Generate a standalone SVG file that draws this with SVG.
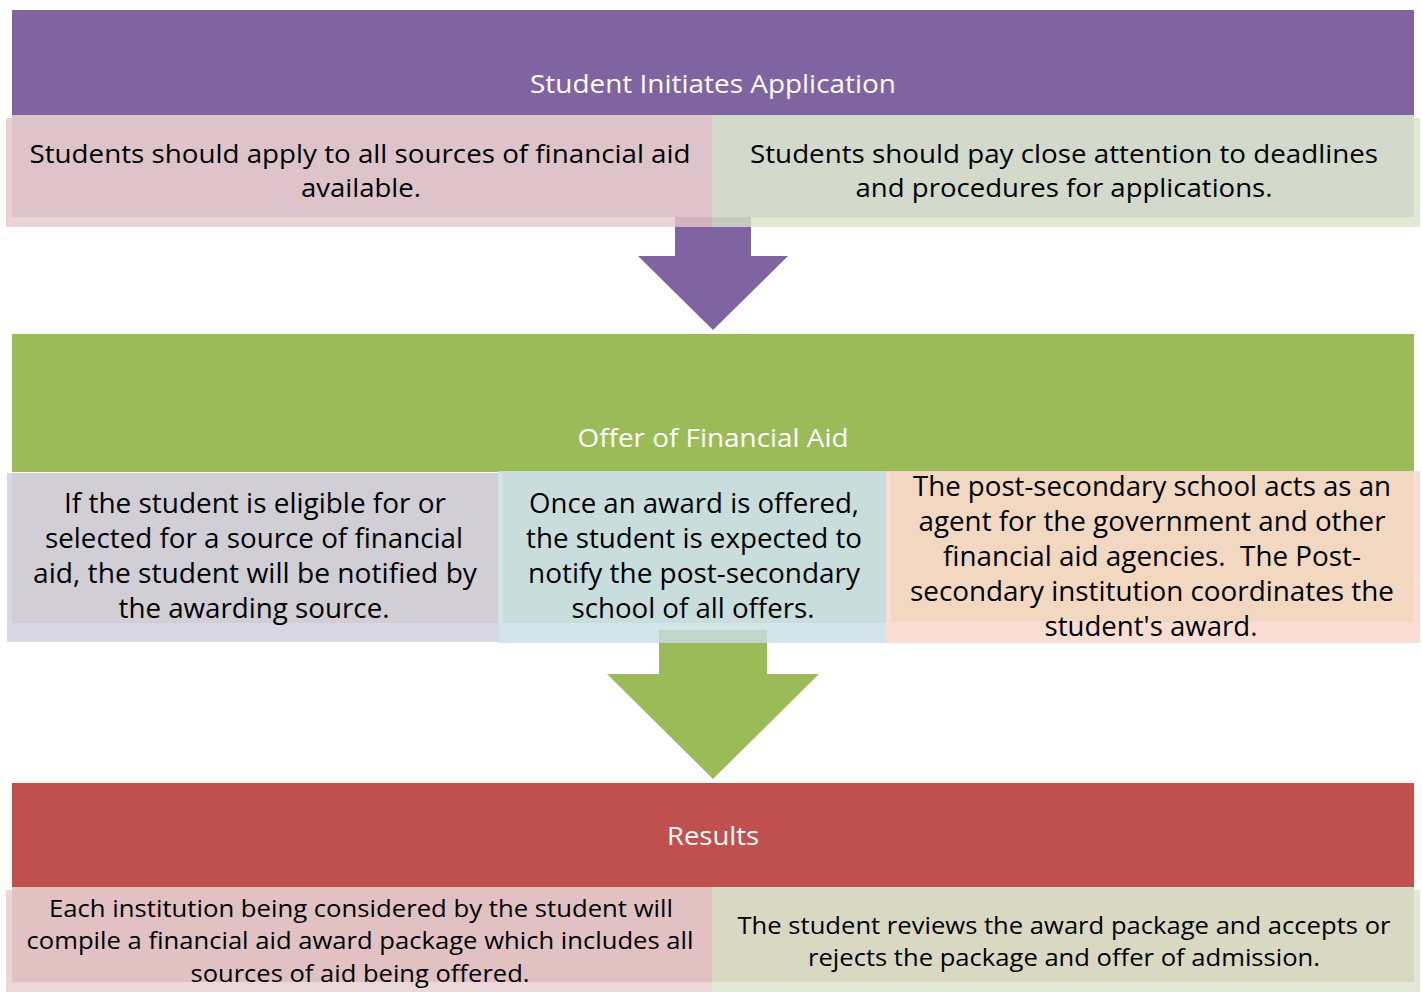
<svg xmlns="http://www.w3.org/2000/svg" width="1422" height="992" viewBox="0 0 1422 992">
<style>
.t{font-family:"Open Sans","Noto Sans",sans-serif;fill:#000;text-anchor:middle}
.s{font-size:26px}
.b{font-size:24px}
.m{font-size:27px}
.h{font-family:"Open Sans","Noto Sans",sans-serif;fill:#fff;text-anchor:middle;font-size:26px}
.lt{opacity:0.8}
</style>
<rect width="1422" height="992" fill="#fff"/>
<g id="connectors">
<path d="M675,217 L751,217 L751,256 L788,256 L713,330 L638,256 L675,256 Z" fill="#8064A2"/>
<path d="M659,630 L767,630 L767,674 L819,674 L713,779 L607,674 L659,674 Z" fill="#9BBB59"/>
</g>
<g id="stage1">
<rect x="12" y="10" width="1402" height="105" fill="#8064A2"/>
<text class="h" x="713" y="93" textLength="366" lengthAdjust="spacingAndGlyphs">Student Initiates Application</text>
</g>
<g id="box1a">
<rect class="lt" x="6" y="118" width="706" height="109" fill="#E6C8C8"/>
<rect x="12" y="115" width="700" height="102" fill="#DEC4CA"/>
<text class="t s" x="360" y="163" textLength="661" lengthAdjust="spacingAndGlyphs">Students should apply to all sources of financial aid</text>
<text class="t s" x="361" y="197" textLength="120" lengthAdjust="spacingAndGlyphs">available.</text>
</g>
<g id="box1b">
<rect class="lt" x="712" y="118" width="708" height="109" fill="#DAE3CA"/>
<rect x="712" y="115" width="702" height="102" fill="#D3DACB"/>
<text class="t s" x="1064" y="163" textLength="628" lengthAdjust="spacingAndGlyphs">Students should pay close attention to deadlines</text>
<text class="t s" x="1064" y="197" textLength="417" lengthAdjust="spacingAndGlyphs">and procedures for applications.</text>
</g>
<g id="stage2">
<rect x="12" y="334" width="1402" height="138" fill="#9BBB59"/>
<text class="h" x="713" y="447" textLength="271" lengthAdjust="spacingAndGlyphs">Offer of Financial Aid</text>
</g>
<g id="box2a">
<rect class="lt" x="7" y="473" width="491" height="169" fill="#D1CDDD"/>
<rect x="12" y="473" width="486" height="150" fill="#D2CED5"/>
<text class="t m" x="255" y="513" textLength="382" lengthAdjust="spacingAndGlyphs">If the student is eligible for or</text>
<text class="t m" x="254" y="548" textLength="418" lengthAdjust="spacingAndGlyphs">selected for a source of financial</text>
<text class="t m" x="255" y="583" textLength="444" lengthAdjust="spacingAndGlyphs">aid, the student will be notified by</text>
<text class="t m" x="254" y="618" textLength="271" lengthAdjust="spacingAndGlyphs">the awarding source.</text>
</g>
<g id="box2b">
<rect class="lt" x="498" y="471" width="388" height="172" fill="#C9DDE6"/>
<rect x="503" y="471" width="383" height="152" fill="#C9DEDC"/>
<text class="t m" x="694" y="513" textLength="330" lengthAdjust="spacingAndGlyphs">Once an award is offered,</text>
<text class="t m" x="694" y="548" textLength="336" lengthAdjust="spacingAndGlyphs">the student is expected to</text>
<text class="t m" x="694" y="583" textLength="332" lengthAdjust="spacingAndGlyphs">notify the post-secondary</text>
<text class="t m" x="693" y="618" textLength="243" lengthAdjust="spacingAndGlyphs">school of all offers.</text>
</g>
<g id="box2c">
<rect class="lt" x="886" y="471" width="534" height="172" fill="#F9D6C9"/>
<rect x="890" y="471" width="524" height="151" fill="#F2D7C1"/>
<text class="t m" x="1152" y="496" textLength="478" lengthAdjust="spacingAndGlyphs">The post-secondary school acts as an</text>
<text class="t m" x="1152" y="531" textLength="467" lengthAdjust="spacingAndGlyphs">agent for the government and other</text>
<text class="t m" x="1152" y="566" textLength="418" lengthAdjust="spacingAndGlyphs" xml:space="preserve" style="white-space:pre">financial aid agencies.  The Post-</text>
<text class="t m" x="1152" y="601" textLength="484" lengthAdjust="spacingAndGlyphs">secondary institution coordinates the</text>
<text class="t m" x="1151" y="636" textLength="213" lengthAdjust="spacingAndGlyphs">student's award.</text>
</g>
<g id="stage3">
<rect x="12" y="783" width="1402" height="104" fill="#C0504D"/>
<text class="h" x="713" y="845" textLength="92" lengthAdjust="spacingAndGlyphs">Results</text>
</g>
<g id="box3a">
<rect class="lt" x="6" y="890" width="706" height="102" fill="#E6CDCD"/>
<rect x="12" y="887" width="700" height="95" fill="#E2C1C3"/>
<text class="t b" x="361" y="917" textLength="624" lengthAdjust="spacingAndGlyphs">Each institution being considered by the student will</text>
<text class="t b" x="360" y="949" textLength="667" lengthAdjust="spacingAndGlyphs">compile a financial aid award package which includes all</text>
<text class="t b" x="360" y="982" textLength="339" lengthAdjust="spacingAndGlyphs">sources of aid being offered.</text>
</g>
<g id="box3b">
<rect class="lt" x="712" y="890" width="708" height="102" fill="#DBE3CD"/>
<rect x="712" y="887" width="702" height="95" fill="#D9D8C3"/>
<text class="t b" x="1064" y="934" textLength="653" lengthAdjust="spacingAndGlyphs">The student reviews the award package and accepts or</text>
<text class="t b" x="1064" y="966" textLength="512" lengthAdjust="spacingAndGlyphs">rejects the package and offer of admission.</text>
</g>
</svg>
